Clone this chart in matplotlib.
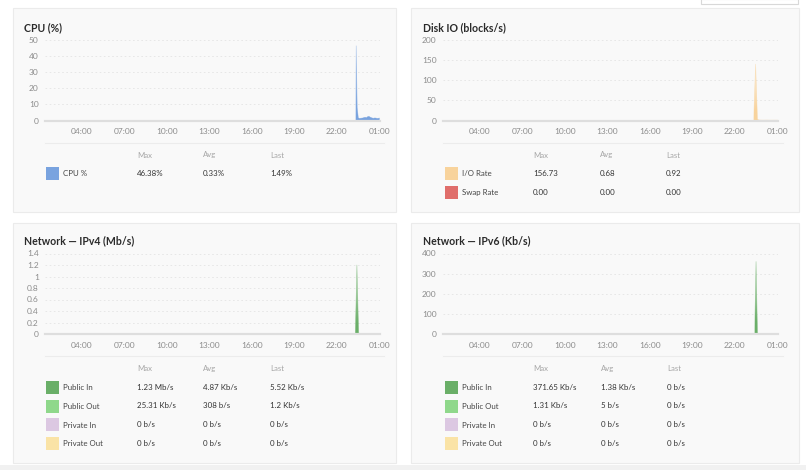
import matplotlib
matplotlib.use("Agg")
import matplotlib.pyplot as plt
import numpy as np
from matplotlib.patches import Rectangle
from matplotlib.colors import LinearSegmentedColormap

plt.rcParams['font.family'] = ['Lato', 'DejaVu Sans']

# ---- data (hours since midnight; 25 = 01:00 next day) ----
hour_ticks = [4, 7, 10, 13, 16, 19, 22, 25]
hour_labels = ["04:00", "07:00", "10:00", "13:00", "16:00", "19:00", "22:00", "01:00"]

cpu_t = [23.34, 23.37, 23.44, 23.52, 23.60, 23.68, 23.77, 23.85, 23.93, 24.02,
         24.10, 24.18, 24.27, 24.35, 24.43, 24.52, 24.60, 24.68, 24.77, 24.85, 24.93, 25.02]
cpu_v = [0, 46.4, 8.0, 1.6, 1.3, 1.4, 1.5, 1.6, 1.9, 2.0,
         1.8, 2.4, 2.6, 2.1, 1.8, 1.5, 1.4, 1.6, 1.5, 1.3, 1.4, 1.49]

disk_t = [23.33, 23.47, 23.60, 23.68, 23.77, 23.85, 24.02, 24.27, 24.52, 24.77, 25.02]
io_v = [0, 140, 3.0, 1.5, 1.2, 1.0, 0.9, 1.1, 0.8, 0.9, 0.92]
swap_v = [0, 0, 0, 0, 0, 0, 0, 0, 0, 0, 0]

net_t = [23.31, 23.42, 23.54, 23.62, 23.70, 23.85, 24.02, 24.27, 24.52, 24.77, 25.02]
v4_pub_in = [0, 1.20, 0.02, 0.008, 0.006, 0.005, 0.006, 0.005, 0.006, 0.005, 0.0055]
v4_pub_out = [0, 0.025, 0.002, 0.001, 0.001, 0.0003, 0.0004, 0.0003, 0.0003, 0.0003, 0.0012]
v6_t = [23.40, 23.50, 23.60, 23.68, 23.77, 23.85, 24.02, 24.27, 24.52, 24.77, 25.02]
v6_pub_in = [0, 360, 6, 1.5, 1.0, 0.8, 0.5, 0.3, 0.2, 0.1, 0]
v6_pub_out = [0, 1.3, 0.05, 0.01, 0.005, 0.005, 0.005, 0.005, 0.005, 0.005, 0]

cpu_yticks = [0, 10, 20, 30, 40, 50]
disk_yticks = [0, 50, 100, 150, 200]
v4_yticks = [0, 0.2, 0.4, 0.6, 0.8, 1.0, 1.2, 1.4]
v4_ylabels = ["0", "0.2", "0.4", "0.6", "0.8", "1", "1.2", "1.4"]
v6_yticks = [0, 100, 200, 300, 400]

cpu_rows = [("CPU %", "#79a3df", "46.38%", "0.33%", "1.49%")]
disk_rows = [("I/O Rate", "#f8d39c", "156.73", "0.68", "0.92"),
             ("Swap Rate", "#e06e6b", "0.00", "0.00", "0.00")]
v4_rows = [("Public In", "#6aaf68", "1.23 Mb/s", "4.87 Kb/s", "5.52 Kb/s"),
           ("Public Out", "#8fd88b", "25.31 Kb/s", "308 b/s", "1.2 Kb/s"),
           ("Private In", "#dcc8e2", "0 b/s", "0 b/s", "0 b/s"),
           ("Private Out", "#fae3a6", "0 b/s", "0 b/s", "0 b/s")]
v6_rows = [("Public In", "#6aaf68", "371.65 Kb/s", "1.38 Kb/s", "0 b/s"),
           ("Public Out", "#8fd88b", "1.31 Kb/s", "5 b/s", "0 b/s"),
           ("Private In", "#dcc8e2", "0 b/s", "0 b/s", "0 b/s"),
           ("Private Out", "#fae3a6", "0 b/s", "0 b/s", "0 b/s")]

W, H = 806, 470
fig = plt.figure(figsize=(W / 100, H / 100), dpi=100)
fig.patch.set_facecolor("white")


def fx(px):
    return px / W


def fy(py):
    return 1 - py / H


def rect(l, t, r, b, **kw):
    fig.patches.append(Rectangle((fx(l), fy(b)), (r - l) / W, (b - t) / H,
                                 transform=fig.transFigure, **kw))


def panel(l, t, r, b):
    rect(l, t, r, b, facecolor="#f9f9f9", edgecolor="#ebebeb", linewidth=0.8, zorder=-5)


def gradient_fill(ax, t, v, color):
    # area under the series, fading lighter towards the top
    poly = ax.fill_between(t, 0, v, color=color, linewidth=0, alpha=0)
    cmap = LinearSegmentedColormap.from_list("g", ["white", color])
    grad = np.linspace(0, 1, 100).reshape(-1, 1)
    im = ax.imshow(grad, cmap=cmap, aspect="auto", origin="upper",
                   extent=(min(t), max(t), 0, max(v)), vmin=-0.35, vmax=0.85,
                   interpolation="bilinear", zorder=3)
    im.set_clip_path(poly.get_paths()[0], transform=ax.transData)
    ax.plot(t, v, color=color, linewidth=0.4, alpha=0.6, zorder=3)


def chart(l, t, r, b, yticks, ylabels, ymax):
    ax = fig.add_axes([fx(l), fy(b), (r - l) / W, (b - t) / H])
    ax.set_facecolor("none")
    ax.set_zorder(2)
    ax.set_xlim(1.4, 25.05)
    ax.set_ylim(0, ymax)
    for s in ["top", "right", "left"]:
        ax.spines[s].set_visible(False)
    ax.spines["bottom"].set_color("#dedede")
    ax.spines["bottom"].set_linewidth(1.6)
    ax.spines["bottom"].set_zorder(5)
    ax.set_xticks(hour_ticks)
    ax.set_xticklabels(hour_labels)
    ax.set_yticks(yticks)
    ax.set_yticklabels(ylabels)
    ax.tick_params(length=0, labelsize=6.0, colors="#8c8c8c")
    ax.tick_params(axis="y", pad=4.5)
    ax.tick_params(axis="x", pad=5.5)
    for y in yticks[1:]:
        ax.axhline(y, color="#e4e4e4", linewidth=0.6, linestyle=(0, (2, 3)), zorder=1)
    return ax


def legend(x_sw, x_lab, xs, y_head, ys, rows):
    for name, x in zip(["Max", "Avg", "Last"], xs):
        fig.text(fx(x), fy(y_head), name, fontsize=5.6, color="#a5a5a5", va="center")
    for (lab, col, mx, av, la), y in zip(rows, ys):
        rect(x_sw, y - 6.5, x_sw + 13, y + 6.5, facecolor=col, edgecolor="none", zorder=2)
        fig.text(fx(x_lab), fy(y + 0.5), lab, fontsize=5.7, color="#444444", va="center")
        for val, x in zip([mx, av, la], xs):
            fig.text(fx(x), fy(y), val, fontsize=5.7, color="#333333", va="center")


# page decoration
panel(13, 8, 396, 212)
panel(411, 8, 799, 212)
panel(13, 223, 396, 463)
panel(411, 223, 799, 463)
rect(0, 465, 806, 470, facecolor="#f1f1f1", edgecolor="none", zorder=-6)
rect(701, -1, 798, 3.5, facecolor="white", edgecolor="#d8d8d8", linewidth=0.8)
for l, r, y in [(45, 384, 143), (443, 783, 143), (45, 384, 356), (443, 783, 356)]:
    fig.lines.append(plt.Line2D([fx(l), fx(r)], [fy(y), fy(y)], transform=fig.transFigure,
                                color="#ececec", linewidth=0.8))

title_kw = dict(fontsize=7.6, fontweight="bold", color="#2b2b2b", va="center")
fig.text(fx(24), fy(28), "CPU (%)", **title_kw)
fig.text(fx(423), fy(28), "Disk IO (blocks/s)", **title_kw)
fig.text(fx(24), fy(241), "Network \u2014 IPv4 (Mb/s)", **title_kw)
fig.text(fx(423), fy(241), "Network \u2014 IPv6 (Kb/s)", **title_kw)

# CPU
ax1 = chart(45, 40, 380, 120.5, cpu_yticks, [str(v) for v in cpu_yticks], 50)
gradient_fill(ax1, cpu_t, cpu_v, cpu_rows[0][1])

# Disk
ax2 = chart(443, 40, 778, 120.5, disk_yticks, [str(v) for v in disk_yticks], 200)
gradient_fill(ax2, disk_t, io_v, disk_rows[0][1])
ax2.fill_between(disk_t, 0, swap_v, color=disk_rows[1][1], linewidth=0)

# IPv4
ax3 = chart(45, 253.5, 380, 334, v4_yticks, v4_ylabels, 1.4)
gradient_fill(ax3, net_t, v4_pub_in, v4_rows[0][1])
ax3.fill_between(net_t, 0, v4_pub_out, color=v4_rows[1][1], linewidth=0, zorder=4)

# IPv6
ax4 = chart(443, 253.5, 778, 334, v6_yticks, [str(v) for v in v6_yticks], 400)
gradient_fill(ax4, v6_t, v6_pub_in, v6_rows[0][1])
ax4.fill_between(v6_t, 0, v6_pub_out, color=v6_rows[1][1], linewidth=0, zorder=4)

legend(46, 63.5, [137, 203, 270], 155, [173.5], cpu_rows)
legend(445, 462, [533, 600, 666], 155, [173.5, 192.5], disk_rows)
legend(46, 63.5, [137, 203, 270], 368.5, [387, 406, 424.5, 443.5], v4_rows)
legend(445, 462, [533, 601, 667], 368.5, [387, 406, 424.5, 443.5], v6_rows)

fig.savefig("out.png", dpi=100)
